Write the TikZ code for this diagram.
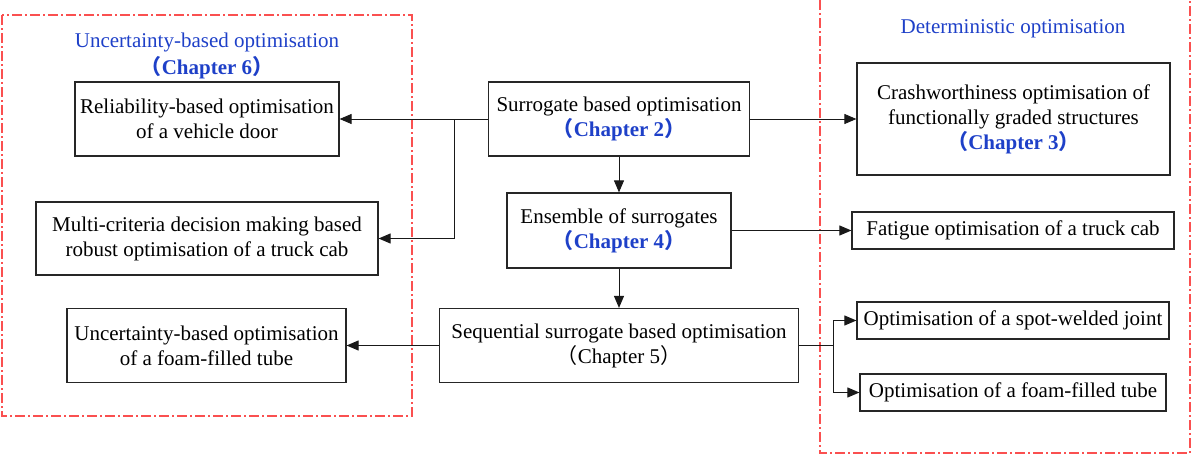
\documentclass[tikz,border=0pt]{standalone}
\usepackage{fontspec}
\setmainfont{Liberation Serif}
\newfontfamily\cjk{Noto Sans CJK SC}
\usetikzlibrary{arrows.meta}
\definecolor{chblue}{RGB}{30,64,200}
\definecolor{dred}{RGB}{250,80,80}
\newcommand{\chap}[1]{{\cjk （}#1{\cjk ）}}
\tikzset{
  box/.style={draw=black!85, line width=0.6pt, align=center, inner sep=0pt, font=\fontsize{10.5}{12.5}\selectfont},
  conn/.style={line width=0.5pt, draw=black!90},
  arr/.style={conn, -{Triangle[length=6pt,width=5pt]}},
  group/.style={draw=dred, line width=0.6pt, dash pattern=on 5pt off 1.5pt on 1pt off 1.5pt},
  ttl/.style={text=chblue, align=center, inner sep=0pt, font=\fontsize{10.5}{12.5}\selectfont},
}
\newcommand{\bch}[1]{\textcolor{chblue}{\textbf{\chap{Chapter #1}}}}
\begin{document}
\begin{tikzpicture}[x=0.5pt,y=-0.5pt]
\useasboundingbox (0,0) rectangle (1192,455);
% groups
\draw[group] (2,15) rectangle (412,416);
\draw[group] (820,0) -- (820,453) -- (1190,453) -- (1190,0);
\node[ttl] (t1) at (207,42) {Uncertainty-based optimisation};
\node[ttl] (t2) at (207,68) {\textbf{\chap{Chapter 6}}};
\node[ttl] (t3) at (1013,29) {Deterministic optimisation};
% boxes
\node[box, minimum width=132pt, minimum height=37pt] (rel) at (207,119) {Reliability-based optimisation\\of a vehicle door};
\node[box, minimum width=171pt, minimum height=36.5pt] (mcd) at (207,238.5) {Multi-criteria decision making based\\robust optimisation of a truck cab};
\node[box, minimum width=139.5pt, minimum height=37pt] (unc) at (206.5,345.5) {Uncertainty-based optimisation\\of a foam-filled tube};
\node[box, minimum width=130.5pt, minimum height=37pt] (sbo) at (619,119) {Surrogate based optimisation\\\bch{2}};
\node[box, minimum width=112pt, minimum height=37.5pt] (ens) at (619,230.5) {Ensemble of surrogates\\\bch{4}};
\node[box, minimum width=179.5pt, minimum height=37pt] (seq) at (619,345.5) {Sequential surrogate based optimisation\\\chap{Chapter 5}};
\node[box, minimum width=156.5pt, minimum height=56pt] (cra) at (1013.5,119) {Crashworthiness optimisation of\\functionally graded structures\\\bch{3}};
\node[box, minimum width=161pt, minimum height=18.5pt] (fat) at (1013,230.5) {Fatigue optimisation of a truck cab};
\node[box, minimum width=156pt, minimum height=18.5pt] (spot) at (1013,320.5) {Optimisation of a spot-welded joint};
\node[box, minimum width=153pt, minimum height=18.5pt] (foam) at (1013,392.5) {Optimisation of a foam-filled tube};
% connectors
\coordinate (b1) at (454,119);
\coordinate (b2) at (833,345.5);
\draw[arr] (sbo.west) -- (rel.east);
\draw[arr] (b1) |- (mcd.east);
\draw[arr] (sbo.east) -- (cra.west);
\draw[arr] (sbo.south) -- (ens.north);
\draw[arr] (ens.east) -- (fat.west);
\draw[arr] (ens.south) -- (seq.north);
\draw[arr] (seq.west) -- (unc.east);
\draw[conn] (seq.east) -- (b2);
\draw[arr] (b2) |- (spot.west);
\draw[arr] (b2) |- (foam.west);
\end{tikzpicture}
\end{document}
